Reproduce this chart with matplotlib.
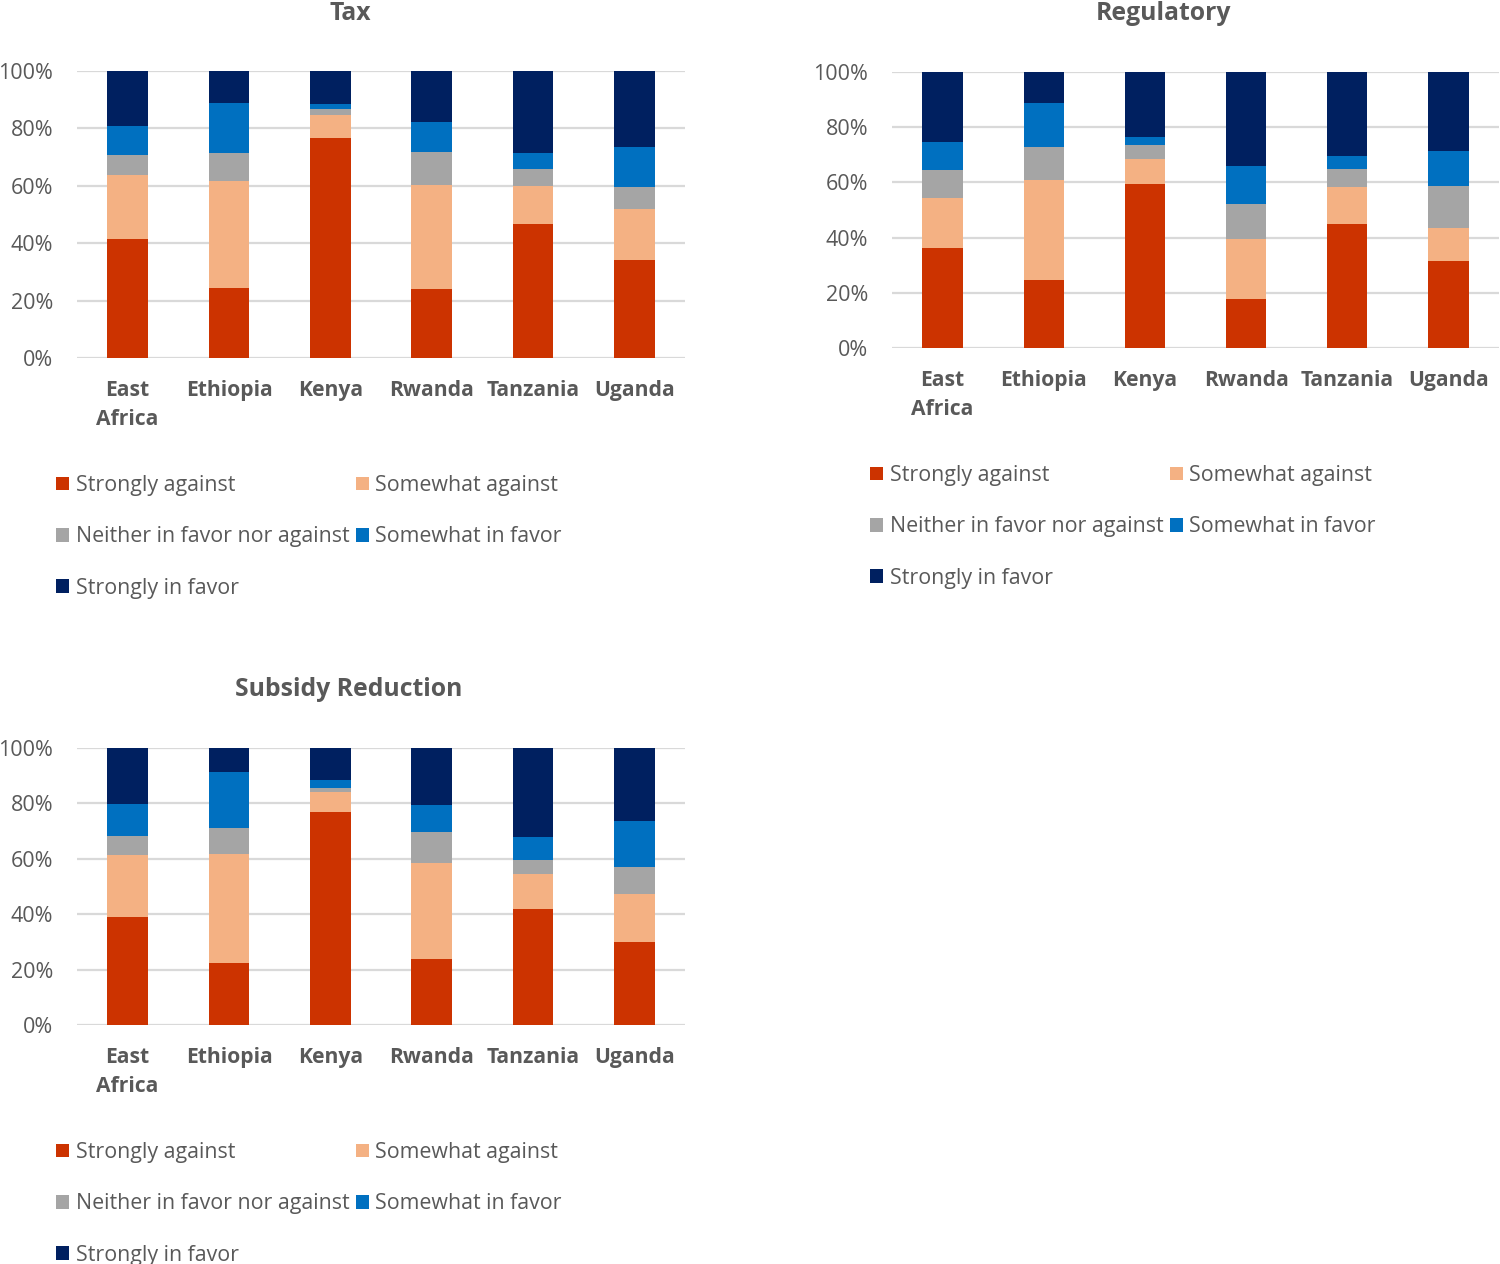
import numpy as np
import matplotlib
matplotlib.use("Agg")
import matplotlib.pyplot as plt

plt.rcParams['font.family'] = ['Open Sans', 'DejaVu Sans']

countries = ['East\nAfrica', 'Ethiopia', 'Kenya', 'Rwanda', 'Tanzania', 'Uganda']
labels = ['Strongly against', 'Somewhat against', 'Neither in favor nor against',
          'Somewhat in favor', 'Strongly in favor']
colors = ['#CC3300', '#F4B183', '#A5A5A5', '#0070C0', '#002060']

# shares (%) per response, one list per country order above
tax = [
    [41.6, 24.3, 76.7, 24.2, 46.7, 34.1],
    [22.1, 37.2, 8.0, 36.1, 13.4, 17.8],
    [7.0, 10.0, 2.0, 11.6, 5.9, 7.6],
    [10.1, 17.5, 1.8, 10.2, 5.4, 14.0],
    [19.2, 11.0, 11.5, 17.9, 28.6, 26.5],
]
regulatory = [
    [36.1, 24.5, 59.6, 17.7, 44.9, 31.7],
    [18.3, 36.3, 8.8, 21.8, 13.3, 11.9],
    [10.0, 12.1, 5.1, 12.8, 6.6, 15.0],
    [10.2, 16.0, 2.9, 13.6, 4.6, 12.7],
    [25.4, 11.1, 23.6, 34.1, 30.6, 28.7],
]
subsidy = [
    [39.0, 22.5, 76.8, 23.9, 41.8, 30.0],
    [22.4, 39.3, 7.3, 34.7, 12.7, 17.3],
    [7.0, 9.3, 1.4, 11.0, 5.0, 9.6],
    [11.3, 20.1, 3.1, 9.9, 8.3, 16.9],
    [20.3, 8.8, 11.4, 20.5, 32.2, 26.2],
]

W, H = 1500, 1264
fig = plt.figure(figsize=(15, 12.64), dpi=100)

grey_txt = '#595959'


def panel(rect, data, title, title_xy, legend_xy):
    l, t, r, b = rect
    ax = fig.add_axes([l / W, 1 - b / H, (r - l) / W, (b - t) / H])
    x = np.arange(len(countries))
    bottom = np.zeros(len(countries))
    handles = []
    for vals, lab, c in zip(data, labels, colors):
        v = np.array(vals) / 100.0
        h = ax.bar(x, v, 0.4, bottom=bottom, color=c, label=lab, zorder=3)
        bottom += v
        handles.append(h)
    ax.set_xlim(-0.5, len(countries) - 0.5)
    ax.set_ylim(0, 1)
    ax.set_yticks(np.arange(0, 1.01, 0.2))
    ax.set_yticklabels([f'{int(round(t * 100))}%' for t in np.arange(0, 1.01, 0.2)])
    ax.set_xticks(x)
    ax.set_xticklabels(countries, fontweight='bold', linespacing=1.5)
    ax.tick_params(axis='y', length=0, pad=17, labelsize=15.5, labelcolor=grey_txt)
    ax.tick_params(axis='x', length=0, pad=16, labelsize=15.2, labelcolor=grey_txt)
    for s in ax.spines.values():
        s.set_visible(False)
    ax.grid(axis='y', color='#D9D9D9', linewidth=1.6, zorder=0)
    fig.text(title_xy[0] / W, 1 - title_xy[1] / H, title, ha='center', va='center',
             fontsize=17.8, fontweight='bold', color=grey_txt)
    order = [0, 2, 4, 1, 3]
    fig.legend([handles[i] for i in order], [labels[i] for i in order],
               loc='upper left', bbox_to_anchor=(legend_xy[0] / W, 1 - legend_xy[1] / H),
               ncol=2, frameon=False, fontsize=15.4, labelcolor=grey_txt,
               handlelength=0.62, handleheight=0.62, handletextpad=0.3,
               columnspacing=0.3, labelspacing=1.42, borderaxespad=0, borderpad=0)
    return ax


panel((77, 71, 685, 358), tax, 'Tax', (350, 14), (56, 475))
panel((892, 72, 1499, 348), regulatory, 'Regulatory', (1163, 14), (870, 465))
panel((77, 748, 685, 1025), subsidy, 'Subsidy Reduction', (349, 690), (56, 1142))

fig.savefig('out.png', dpi=100)
